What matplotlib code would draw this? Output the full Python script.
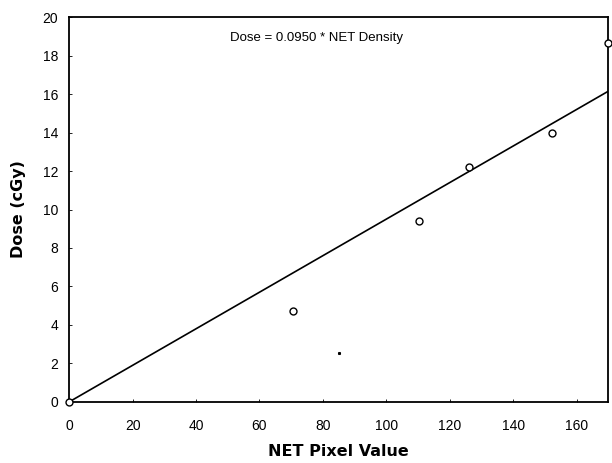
import matplotlib
matplotlib.use("Agg")
import matplotlib.pyplot as plt
import numpy as np

net_pixel = [0, 70.5, 110.3, 126.1, 152.2, 170.0]
dose = [0.0, 4.7, 9.4, 12.2, 14.0, 18.65]
speck_x, speck_y = [85.2], [2.55]

slope = 0.0950
fit_x = [0, 170]
fit_y = [slope * x for x in fit_x]

xticks = [0, 20, 40, 60, 80, 100, 120, 140, 160]
yticks = [0, 2, 4, 6, 8, 10, 12, 14, 16, 18, 20]

plt.rcParams["font.family"] = ["Liberation Sans", "DejaVu Sans"]

fig = plt.figure(figsize=(6.12, 4.63), dpi=100)
ax = fig.add_axes([0.113, 0.132, 0.881, 0.831])

ax.plot(fit_x, fit_y, color="black", lw=1.2, zorder=2)
ax.plot(net_pixel, dose, "o", ms=5, mfc="white", mec="black", mew=1.0,
        clip_on=False, zorder=3)
ax.plot(speck_x, speck_y, "s", ms=1.2, color="black", zorder=3)

ax.text(78, 18.9, "Dose = 0.0950 * NET Density", ha="center", va="center",
        fontsize=9.5)

ax.set_xlim(0, 170)
ax.set_ylim(0, 20)
ax.set_xticks(xticks)
ax.set_yticks(yticks)
ax.tick_params(direction="in", length=2, width=0.6, labelsize=10)
ax.tick_params(axis="x", pad=12)
ax.tick_params(axis="y", pad=8)
for s in ax.spines.values():
    s.set_linewidth(1.3)

ax.set_xlabel("NET Pixel Value", fontsize=11.5, fontweight="heavy",
              family=["DejaVu Sans"], labelpad=8)
ax.set_ylabel("Dose (cGy)", fontsize=11.5, fontweight="heavy",
              family=["DejaVu Sans"], labelpad=12)

fig.savefig("out.png", dpi=100)
